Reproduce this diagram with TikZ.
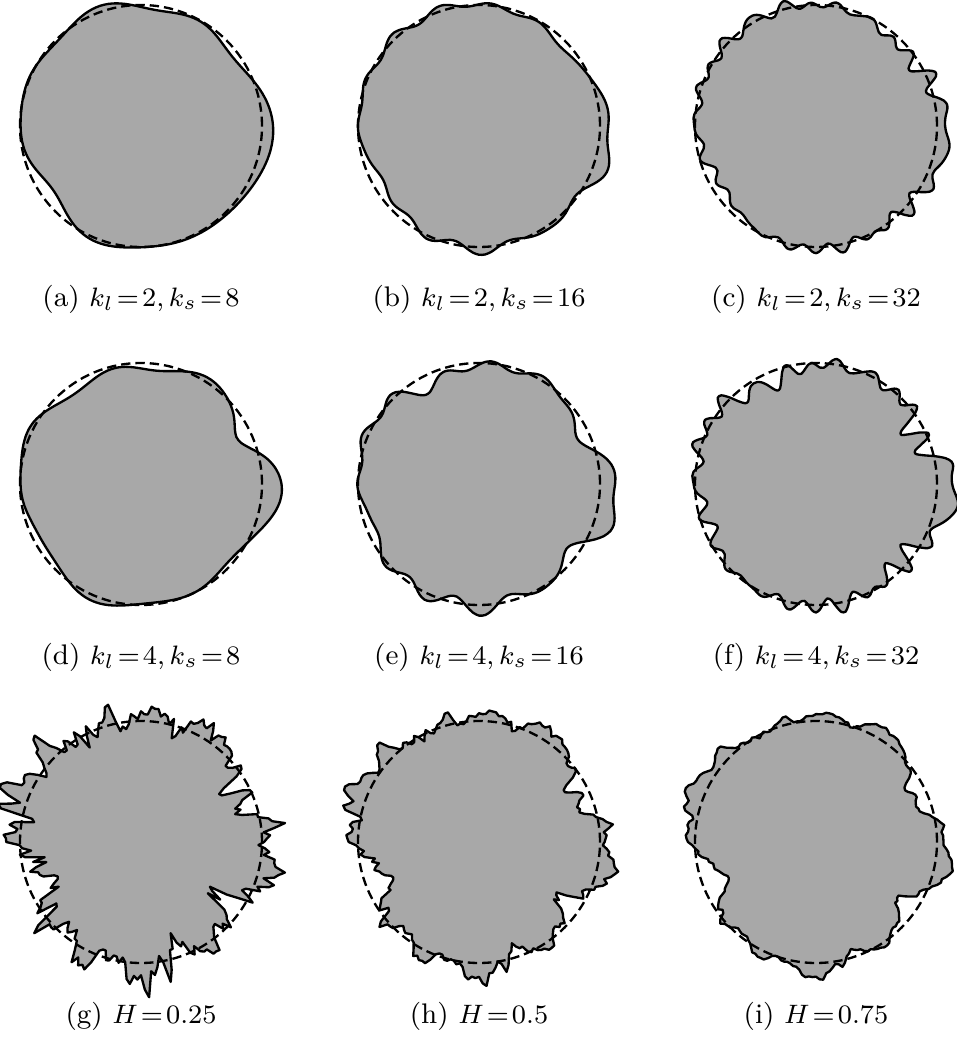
\documentclass[tikz,border=0pt]{standalone}
\usepackage{tikz}

\definecolor{shapegray}{gray}{0.66}
\tikzset{
  blob/.style={fill=shapegray, draw=black, line width=0.7pt, line join=round},
  ring/.style={draw=black, line width=0.7pt, dash pattern=on 2.8pt off 1.5pt},
  subcap/.style={font=\fontsize{8.5}{10}\selectfont}
}

% bump of width 1/#3 round angle #2
\pgfmathdeclarefunction{vm}{3}{\pgfmathparse{exp(max(#3*(cos(#1-(#2))-1),-9))}}

% random phases, and mode amplitudes for H = 0.25, 0.5, 0.75
\pgfmathsetseed{20}
\foreach \kx in {1,...,110}{%
  \pgfmathsetmacro\ph{360*rnd}%
  \expandafter\xdef\csname phase\kx\endcsname{\ph}%
  \pgfmathsetmacro\am{0.17*\kx^(-0.75)}%
  \expandafter\xdef\csname ampg\kx\endcsname{\am}%
  \pgfmathsetmacro\am{0.22*\kx^(-1)}%
  \expandafter\xdef\csname amph\kx\endcsname{\am}%
  \pgfmathsetmacro\am{0.28*\kx^(-1.25)}%
  \expandafter\xdef\csname ampi\kx\endcsname{\am}%
}

% large scale of each row
\newcommand\baseone{0.10*vm(\tx,-8,12)-0.08*vm(\tx,212,15)-0.05*vm(\tx,45,15)+0.02*vm(\tx,275,15)+0.015*vm(\tx,115,10)}
\newcommand\basetwo{0.17*vm(\tx,-5,20)-0.12*vm(\tx,24,60)-0.05*vm(\tx,-42,25)-0.09*vm(\tx,115,20)+0.03*vm(\tx,150,30)-0.06*vm(\tx,200,30)+0.015*vm(\tx,270,10)}
\newcommand\basethree{0.16*vm(\tx,-8,60)-0.13*vm(\tx,25,50)-0.12*vm(\tx,-35,40)+0.09*vm(\tx,58,40)+0.05*vm(\tx,92,30)+0.12*vm(\tx,150,25)+0.06*vm(\tx,172,40)-0.22*vm(\tx,200,60)+0.1*vm(\tx,265,40)}

% smooth shape: centre, points, first and last mode, amplitude, large scale
\newcommand\smoothblob[6]{%
  \gdef\ptlist{}%
  \foreach \ix in {1,...,#2}{%
    \pgfmathsetmacro\tf{\ix/#2}%
    \pgfmathsetmacro\tx{360*\tf}%
    \pgfmathsetmacro\rr{1+#6}%
    \global\let\rsum\rr
    \foreach \kx in {#3,...,#4}{%
      \pgfmathsetmacro\rr{\rsum+#5*cos(360*frac(\kx*\tf)+\csname phase\kx\endcsname)}%
      \global\let\rsum\rr}%
    \xdef\ptlist{\ptlist(\tx:\rsum)}}%
  \edef\blobcmd{\noexpand\filldraw[blob,shift={(#1)},scale=121]
    plot[smooth cycle] coordinates {\ptlist};}%
  \blobcmd
  \draw[ring] (#1) circle[radius=121];}

% rough shapes of the last row, all three at once
\newcommand\roughrow[3]{%
  \gdef\ptg{}\gdef\pth{}\gdef\pti{}%
  \foreach \ix in {1,...,#1}{%
    \pgfmathsetmacro\tf{\ix/#1}%
    \pgfmathsetmacro\tx{360*\tf}%
    \pgfmathsetmacro\rr{1+\basethree}%
    \global\let\rg\rr \global\let\rh\rr \global\let\ri\rr
    \foreach \kx in {#2,...,#3}{%
      \pgfmathsetmacro\cv{cos(360*frac(\kx*\tf)+\csname phase\kx\endcsname)}%
      \pgfmathsetmacro\rr{\rg+\csname ampg\kx\endcsname*(\cv)}\global\let\rg\rr
      \pgfmathsetmacro\rr{\rh+\csname amph\kx\endcsname*(\cv)}\global\let\rh\rr
      \pgfmathsetmacro\rr{\ri+\csname ampi\kx\endcsname*(\cv)}\global\let\ri\rr}%
    \xdef\ptg{\ptg(\tx:\rg)}\xdef\pth{\pth(\tx:\rh)}\xdef\pti{\pti(\tx:\ri)}}}

\newcommand\roughblob[2]{%
  \edef\blobcmd{\noexpand\filldraw[blob,shift={(#1)},scale=121]
    plot[sharp cycle] coordinates {#2};}%
  \blobcmd
  \draw[ring] (#1) circle[radius=121];}

\begin{document}
\thickmuskip=2mu\relax
\begin{tikzpicture}[x=0.3pt,y=0.3pt]
\useasboundingbox (0,0) rectangle (957,1041);

% k_l = 2
\smoothblob{141,915}{96}{5}{8}{0.011}{\baseone}
\smoothblob{479,915}{128}{9}{16}{0.010}{\baseone}
\smoothblob{816,915}{192}{18}{32}{0.011}{\baseone}
\node[subcap] (capa) at (141,742) {(a) $k_l=2, k_s=8$};
\node[subcap] (capb) at (479,742) {(b) $k_l=2, k_s=16$};
\node[subcap] (capc) at (816,742) {(c) $k_l=2, k_s=32$};

% k_l = 4
\smoothblob{141,557}{96}{5}{8}{0.016}{\basetwo}
\smoothblob{479,557}{128}{9}{16}{0.016}{\basetwo}
\smoothblob{816,557}{192}{18}{32}{0.016}{\basetwo}
\node[subcap] (capd) at (141,384) {(d) $k_l=4, k_s=8$};
\node[subcap] (cape) at (479,384) {(e) $k_l=4, k_s=16$};
\node[subcap] (capf) at (816,384) {(f) $k_l=4, k_s=32$};

% H
\roughrow{240}{10}{110}
\roughblob{141,199}{\ptg}
\roughblob{479,199}{\pth}
\roughblob{816,199}{\pti}
\node[subcap] (capg) at (141,25) {(g) $H=0.25$};
\node[subcap] (caph) at (479,25) {(h) $H=0.5$};
\node[subcap] (capi) at (816,25) {(i) $H=0.75$};
\end{tikzpicture}
\end{document}
